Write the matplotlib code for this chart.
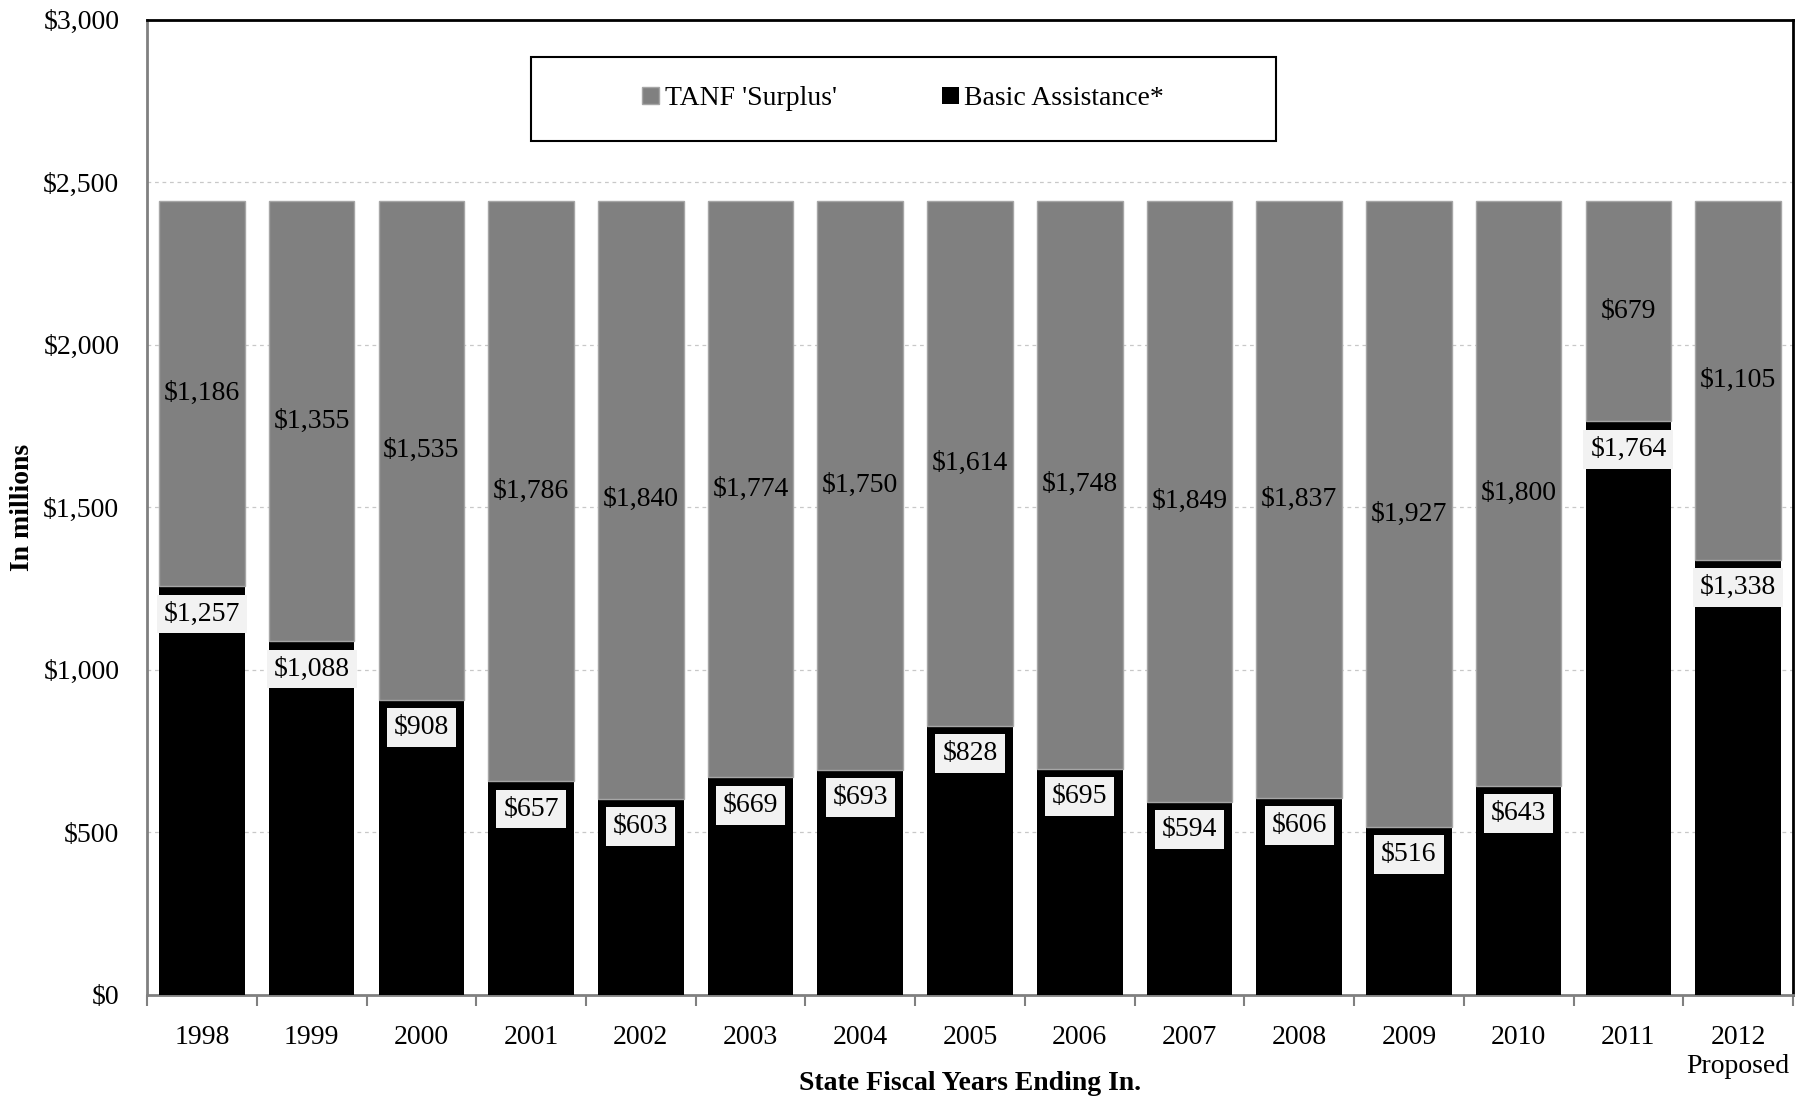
import numpy as np
import matplotlib
import matplotlib.pyplot as plt
from matplotlib.ticker import FuncFormatter
from matplotlib.patches import Rectangle
matplotlib.use("Agg")

plt.rcParams['font.family'] = ['Liberation Serif', 'DejaVu Serif']

# Данные по годам (в миллионах долларов)
years = ['1998', '1999', '2000', '2001', '2002', '2003', '2004', '2005',
         '2006', '2007', '2008', '2009', '2010', '2011', '2012\nProposed']
basic = [1257, 1088, 908, 657, 603, 669, 693, 828, 695, 594, 606, 516, 643, 1764, 1338]
surplus = [1186, 1355, 1535, 1786, 1840, 1774, 1750, 1614, 1748, 1849, 1837, 1927, 1800, 679, 1105]

fig = plt.figure(figsize=(18.02, 10.98), dpi=100)
ax = fig.add_axes([0.0816, 0.094, 0.9134, 0.888])

x = np.arange(len(years))
w = 0.78
b1 = ax.bar(x, basic, w, color='black', label='Basic Assistance*', zorder=3)
b2 = ax.bar(x, surplus, w, bottom=basic, color='#808080', edgecolor='#a6a6a6',
            linewidth=1, label="TANF 'Surplus'", zorder=3)

# Подписи значений
for i in range(len(years)):
    ax.annotate('$%s' % format(basic[i], ','), xy=(x[i], basic[i]), xytext=(0, -20),
                textcoords='offset points', ha='center', va='center', fontsize=20,
                bbox=dict(boxstyle='square,pad=0.25', fc='#f2f2f2', ec='none'), zorder=5)
    ax.text(x[i], basic[i] + surplus[i] / 2, '$%s' % format(surplus[i], ','),
            ha='center', va='center', fontsize=20, zorder=5)

ax.set_xlim(-0.5, len(years) - 0.5)
ax.set_ylim(0, 3000)
ax.set_yticks(np.arange(0, 3001, 500))
ax.yaxis.set_major_formatter(FuncFormatter(lambda v, p: '$' + format(int(v), ',')))
ax.yaxis.grid(True, linestyle=(0, (3, 3)), color='#c8c8c8', linewidth=0.9, zorder=0)

ax.set_xticks(x)
ax.set_xticklabels(years, fontsize=20, linespacing=1.2)
ax.set_xticks(np.arange(-0.5, len(years)), minor=True)
ax.tick_params(axis='x', which='major', length=0, pad=22)
ax.tick_params(axis='x', which='minor', length=8, width=1.5, color='#808080', direction='out')
ax.tick_params(axis='y', length=0, labelsize=20, pad=20)

for s in ['left', 'bottom']:
    ax.spines[s].set_color('#808080')
    ax.spines[s].set_linewidth(2)
for s in ['top', 'right']:
    ax.spines[s].set_color('black')
    ax.spines[s].set_linewidth(2)

ax.set_ylabel('In millions', fontsize=20, fontweight='bold', va='center')
ax.yaxis.set_label_coords(-0.0754, 0.5)
ax.set_xlabel('State Fiscal Years Ending In.', fontsize=20, fontweight='bold', va='center')
ax.xaxis.set_label_coords(0.5, -0.0905)

# Рамка легенды
ax.add_patch(Rectangle((0.233, 0.876), 0.453, 0.086, transform=ax.transAxes,
                       fill=True, fc='white', ec='black', lw=1.5, zorder=6))
ax.legend(handles=[b2, b1], loc='center', bbox_to_anchor=(0.4595, 0.919),
          ncol=2, fontsize=20, frameon=False, handlelength=0.6, handleheight=0.6,
          handletextpad=0.2, columnspacing=3.8).set_zorder(7)

fig.savefig('out.png', dpi=100)
